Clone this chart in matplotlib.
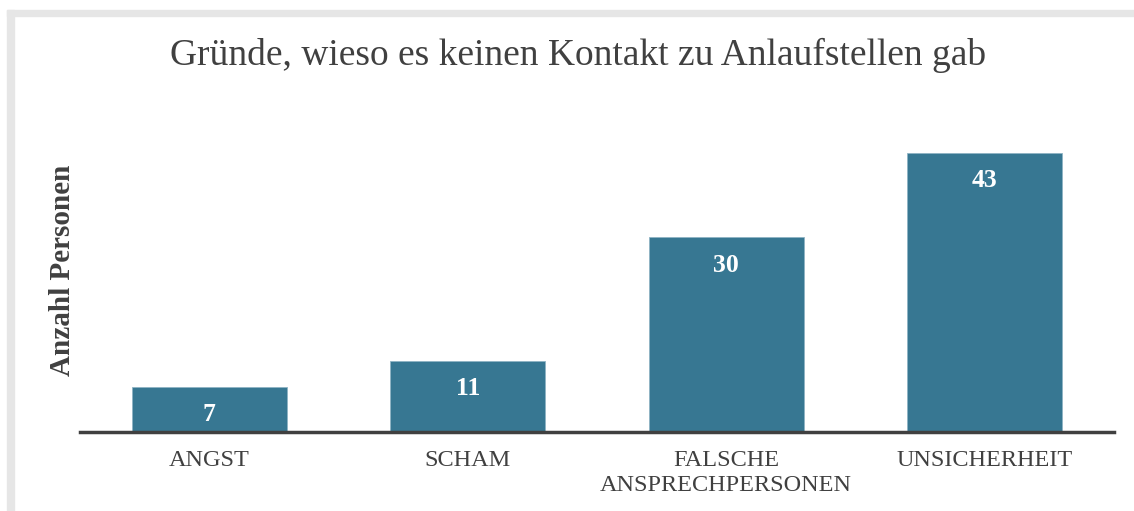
import matplotlib.pyplot as plt
from matplotlib.patches import Rectangle

# data
categories = ["ANGST", "SCHAM", "FALSCHE\nANSPRECHPERSONEN", "UNSICHERHEIT"]
counts = [7, 11, 30, 43]

title = "Gründe, wieso es keinen Kontakt zu Anlaufstellen gab"
ylabel = "Anzahl Personen"

bar_color = "#377792"
text_color = "#404040"

plt.rcParams["font.family"] = ["Liberation Serif", "DejaVu Serif"]

fig = plt.figure(figsize=(11.34, 5.11), dpi=100)

# light grey frame at top and left
fig.patches.append(Rectangle((7 / 1134, 0), 7 / 1134, 1 - 10 / 511,
                             transform=fig.transFigure, color="#e6e6e6", zorder=0))
fig.patches.append(Rectangle((7 / 1134, 1 - 16 / 511), 1 - 7 / 1134, 6 / 511,
                             transform=fig.transFigure, color="#e6e6e6", zorder=0))

ax = fig.add_axes([80 / 1134, 1 - 432 / 511, 1034 / 1134, 324.5 / 511])
x = range(len(categories))
bars = ax.bar(x, counts, width=0.6, color=bar_color, edgecolor="#8fb3c4", linewidth=0.6)

for b, v in zip(bars, counts):
    ax.annotate(str(v), (b.get_x() + b.get_width() / 2, v),
                xytext=(0, -20), textcoords="offset points",
                ha="center", va="center", color="white",
                fontsize=18.5, fontweight="bold")

ax.set_xlim(-0.5, 3.5)
ax.set_ylim(0, 50)
ax.set_xticks(list(x))
ax.set_xticklabels(categories, fontsize=17.5, color=text_color, linespacing=1.25)
ax.tick_params(axis="x", length=0, pad=13)
ax.set_yticks([])
for s in ["top", "right", "left"]:
    ax.spines[s].set_visible(False)
ax.spines["bottom"].set_color(text_color)
ax.spines["bottom"].set_linewidth(2.5)

fig.text(578.5 / 1134, 1 - 55 / 511, title, ha="center", va="center",
         fontsize=27, color=text_color)
fig.text(62 / 1134, 1 - 270 / 511, ylabel, rotation=90, ha="center", va="center",
         fontsize=21, fontweight="bold", color=text_color)

fig.savefig("out.png", dpi=100)
